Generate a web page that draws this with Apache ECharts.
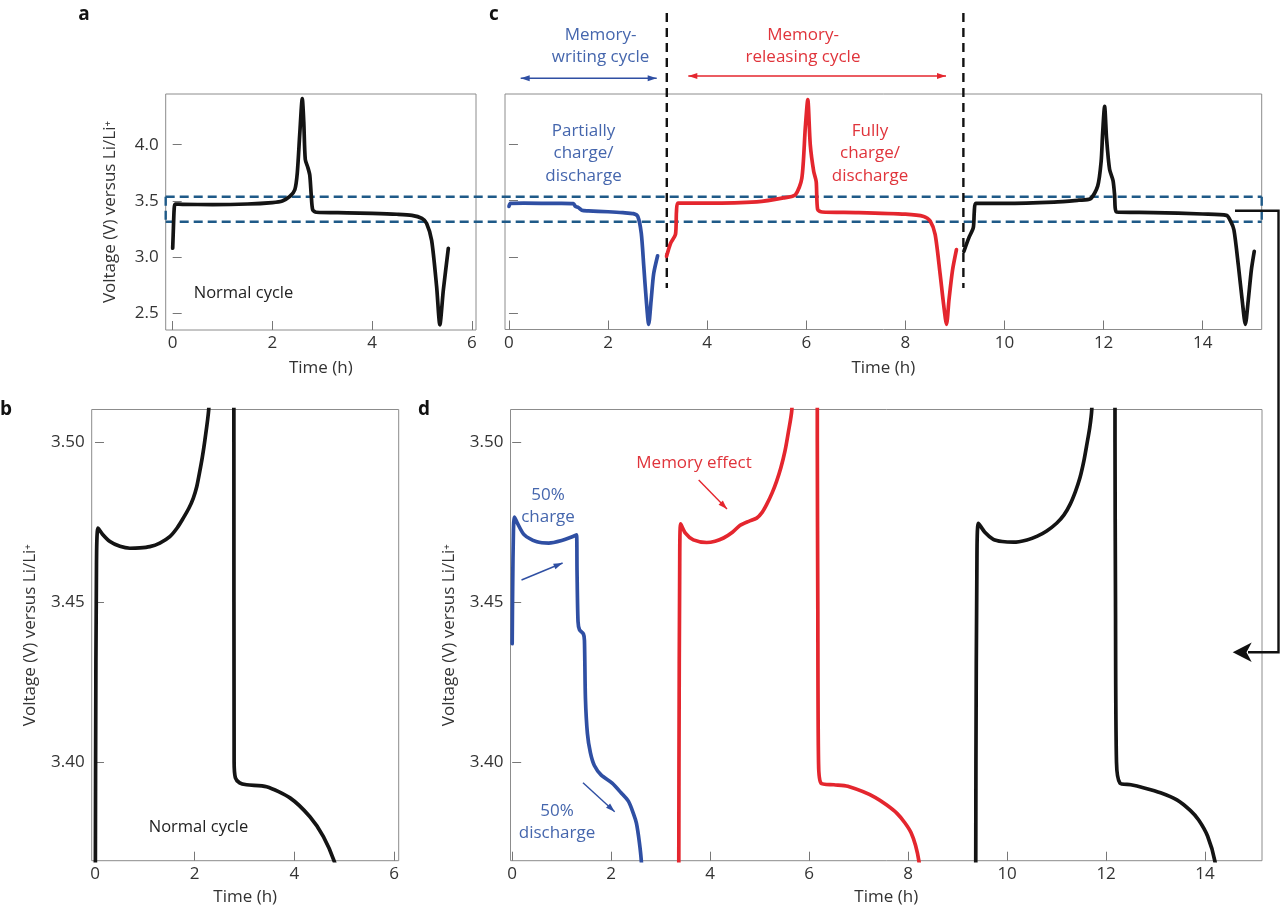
<!DOCTYPE html>
<html><head><meta charset="utf-8">
<script src="https://cdn.jsdelivr.net/npm/echarts@6/dist/echarts.min.js"></script>
<style>html,body{margin:0;padding:0;background:#fff}#c{width:1280px;height:911px}</style>
</head><body><div id="c"></div><script>
// ---------- DATA ----------
// Panel a: normal cycle, [time h, voltage V]
const normalA = [[0.0,3.08],[0.01,3.2],[0.03,3.43],[0.05,3.472],[0.2,3.470],[0.8,3.468],[1.5,3.473],[2.0,3.486],[2.2,3.50],[2.35,3.54],[2.45,3.60],[2.5,3.75],[2.55,4.10],[2.6,4.41],[2.63,4.20],[2.66,3.87],[2.71,3.80],[2.75,3.73],[2.78,3.55],[2.81,3.42],[2.88,3.40],[3.5,3.395],[4.0,3.39],[4.5,3.382],[4.8,3.372],[5.0,3.345],[5.095,3.30],[5.195,3.15],[5.295,2.74],[5.36,2.40],[5.43,2.71],[5.53,3.08]];
// Panel b: normal cycle zoomed
const normalB = [[0.0,3.30],[0.012,3.40],[0.03,3.462],[0.06,3.4731],[0.15,3.4712],[0.30,3.4689],[0.5,3.4674],[0.70,3.4668],[0.9,3.4669],[1.10,3.4673],[1.30,3.4684],[1.50,3.4704],[1.65,3.4732],[1.77,3.4762],[1.88,3.4792],[1.97,3.4824],[2.04,3.4860],[2.10,3.4907],[2.15,3.4950],[2.20,3.5001],[2.28,3.51],[2.35,3.53],[2.5,3.8],[2.6,4.4],[2.7,3.78],[2.78,3.6],[2.785,3.50],[2.79,3.40],[2.815,3.3952],[2.9,3.3936],[3.04,3.3930],[3.44,3.3924],[3.91,3.3889],[4.31,3.3830],[4.58,3.3768],[4.8,3.369],[4.85,3.365]];
// Panel c: memory-writing (partial), memory-releasing (full), normal cycle
const writeC = [[0.0,3.45],[0.03,3.476],[0.3,3.478],[1.0,3.476],[1.30,3.474],[1.34,3.45],[1.40,3.44],[1.47,3.415],[1.6,3.410],[2.0,3.402],[2.3,3.394],[2.51,3.385],[2.6,3.36],[2.67,3.21],[2.72,2.92],[2.77,2.62],[2.82,2.40],[2.87,2.62],[2.92,2.85],[3.0,3.01]];
const releaseC = [[3.18,3.005],[3.26,3.12],[3.36,3.20],[3.38,3.40],[3.41,3.478],[4.0,3.478],[5.0,3.49],[5.54,3.525],[5.78,3.554],[5.91,3.70],[5.98,4.15],[6.03,4.40],[6.08,4.0],[6.15,3.76],[6.20,3.67],[6.23,3.42],[6.32,3.40],[7.0,3.395],[8.0,3.38],[8.37,3.36],[8.5,3.32],[8.6,3.20],[8.7,2.85],[8.77,2.58],[8.83,2.40],[8.88,2.62],[8.95,2.88],[9.03,3.065]];
const normalC = [[9.18,3.05],[9.28,3.17],[9.37,3.26],[9.39,3.40],[9.42,3.476],[10.0,3.476],[11.0,3.488],[11.5,3.505],[11.73,3.516],[11.88,3.63],[11.95,3.85],[11.98,4.10],[12.02,4.34],[12.06,4.05],[12.12,3.78],[12.19,3.68],[12.22,3.56],[12.26,3.40],[13.0,3.395],[14.0,3.382],[14.48,3.37],[14.56,3.32],[14.63,3.24],[14.72,2.92],[14.8,2.60],[14.86,2.40],[14.92,2.62],[14.98,2.88],[15.04,3.05]];
// Panel d: zoomed view of the three cycles
const writeD = [[0.0,3.437],[0.01,3.455],[0.025,3.472],[0.045,3.4765],[0.1,3.4748],[0.243,3.4710],[0.5,3.4688],[0.74,3.4684],[1.0,3.4692],[1.2,3.4703],[1.30,3.4710],[1.31,3.4600],[1.33,3.4440],[1.36,3.4414],[1.44,3.4400],[1.46,3.4380],[1.48,3.4200],[1.52,3.4090],[1.58,3.4030],[1.66,3.3990],[1.8,3.3960],[2.02,3.3935],[2.2,3.3905],[2.35,3.3878],[2.45,3.3840],[2.51,3.3810],[2.57,3.3750],[2.61,3.369],[2.63,3.36]];
const releaseD = [[3.36,3.30],[3.37,3.40],[3.385,3.462],[3.405,3.4744],[3.5,3.4715],[3.66,3.4694],[3.93,3.4686],[4.1,3.4690],[4.27,3.4700],[4.45,3.4718],[4.60,3.4739],[4.78,3.4752],[4.94,3.4762],[5.05,3.4780],[5.14,3.4804],[5.25,3.4840],[5.34,3.4876],[5.43,3.4920],[5.51,3.4970],[5.58,3.5030],[5.65,3.51],[5.72,3.54],[6.0,4.4],[6.16,3.7],[6.165,3.50],[6.175,3.45],[6.19,3.40],[6.24,3.3935],[6.5,3.3930],[6.78,3.3925],[7.34,3.3890],[7.78,3.3840],[8.06,3.3780],[8.22,3.369],[8.25,3.36]];
const normalD = [[9.36,3.30],[9.37,3.40],[9.39,3.462],[9.42,3.4746],[9.55,3.4718],[9.72,3.4696],[9.9,3.4689],[10.13,3.4687],[10.4,3.4694],[10.60,3.4705],[10.8,3.4722],[11.00,3.4746],[11.15,3.4772],[11.27,3.4804],[11.38,3.4845],[11.47,3.4887],[11.55,3.4940],[11.61,3.4991],[11.67,3.5045],[11.71,3.51],[11.78,3.54],[12.0,4.3],[12.17,3.7],[12.18,3.50],[12.19,3.45],[12.21,3.40],[12.28,3.3935],[12.5,3.3930],[12.77,3.3920],[13.1,3.3905],[13.43,3.3883],[13.7,3.3850],[13.87,3.3820],[14.05,3.3770],[14.2,3.369],[14.25,3.36]];
// tick values
const timeTicks6 = [0,2,4,6];
const timeTicks15 = [0,2,4,6,8,10,12,14];
const voltTicksWide = [2.5,3.0,3.5,4.0];
const voltTicksZoom = [3.40,3.45,3.50];
// guide voltages (dashed band) and cycle boundaries (h)
const bandVolts = [3.538, 3.316];
const cycleBounds = [3.185, 9.17];

// ---------- STYLE ----------
const FONT = '"Open Sans", "Noto Sans", sans-serif';
const FS = 17;
const TXT = '#333';
const FRAME = '#8c8c8c';
const BLACK = '#141414', BLUE = '#2f4fa3', RED = '#e4262e';
const BLUE_T = '#4566ad', RED_T = '#e0343b';
const YNAME = 'Voltage (V) versus Li/Li\u207A';

const chart = echarts.init(document.getElementById('c'));

function xAxis(gi, min, max, ticks) {
  return {
    type: 'value', gridIndex: gi, min: min, max: max,
    name: 'Time (h)', nameLocation: 'middle', nameGap: gi >= 2 ? 28 : 30,
    nameTextStyle: { fontFamily: FONT, fontSize: FS, color: TXT },
    axisLine: { show: false },
    splitLine: { show: false },
    axisTick: { show: true, inside: true, length: 9, customValues: ticks, lineStyle: { color: '#777', width: 1 } },
    axisLabel: { show: true, customValues: ticks, margin: 5, fontFamily: FONT, fontSize: FS, color: TXT,
      formatter: v => String(Math.round(v)) }
  };
}
function yAxis(gi, min, max, ticks, dec, showLabel, gap) {
  return {
    type: 'value', gridIndex: gi, min: min, max: max,
    name: showLabel ? YNAME : '', nameLocation: 'middle', nameGap: gap, nameRotate: 90,
    nameTextStyle: { fontFamily: FONT, fontSize: FS, color: TXT },
    axisLine: { show: false },
    splitLine: { show: false },
    axisTick: { show: true, inside: true, length: 9, customValues: ticks, lineStyle: { color: '#777', width: 1 } },
    axisLabel: { show: showLabel, customValues: ticks, margin: 7, fontFamily: FONT, fontSize: FS, color: TXT,
      formatter: v => v.toFixed(dec) }
  };
}
function line(xi, data, color) {
  return { type: 'line', xAxisIndex: xi, yAxisIndex: xi, data: data, showSymbol: false, symbol: 'none',
    smooth: 0.25, clip: true, animation: false, silent: true,
    lineStyle: { color: color, width: 3.7, join: 'round', cap: 'round' } };
}

const option = {
  backgroundColor: '#fff',
  animation: false,
  grid: [
    { left: 165.7, top: 94, width: 310.3, height: 236, show: true, borderColor: FRAME, borderWidth: 1 },
    { left: 505, top: 94, width: 756.7, height: 235.5, show: true, borderColor: FRAME, borderWidth: 1 },
    { left: 91.7, top: 409.5, width: 307, height: 451.2, show: true, borderColor: FRAME, borderWidth: 1 },
    { left: 510.5, top: 409.5, width: 751.5, height: 451.2, show: true, borderColor: FRAME, borderWidth: 1 }
  ],
  xAxis: [
    xAxis(0, -0.14, 6.085, timeTicks6),
    xAxis(1, -0.08, 15.19, timeTicks15),
    xAxis(2, -0.066, 6.09, timeTicks6),
    xAxis(3, -0.034, 15.15, timeTicks15)
  ],
  yAxis: [
    yAxis(0, 2.354, 4.450, voltTicksWide, 1, true, 47),
    yAxis(1, 2.354, 4.450, voltTicksWide, 1, false, 47),
    yAxis(2, 3.3693, 3.5101, voltTicksZoom, 2, true, 53),
    yAxis(3, 3.3693, 3.5101, voltTicksZoom, 2, true, 53)
  ],
  series: [
    line(0, normalA, BLACK),
    line(1, writeC, BLUE),
    line(1, releaseC, RED),
    line(1, normalC, BLACK),
    line(2, normalB, BLACK),
    line(3, writeD, BLUE),
    line(3, releaseD, RED),
    line(3, normalD, BLACK)
  ]
};
chart.setOption(option);

// ---------- ANNOTATIONS ----------
function txt(x, y, s, color, size, weight, lh) {
  return { type: 'text', z: 10, style: { text: s, x: x, y: y, fill: color, font: (weight || 'normal') + ' ' + size + 'px ' + FONT,
    textAlign: 'center', textVerticalAlign: 'middle', align: 'center', verticalAlign: 'middle', lineHeight: lh || size * 1.2 } };
}
function seg(x1, y1, x2, y2, color, w, dash) {
  return { type: 'line', z: 1, shape: { x1: x1, y1: y1, x2: x2, y2: y2 }, style: { stroke: color, lineWidth: w, lineDash: dash || null } };
}
function head(x1, y1, x2, y2, color, len, wid) {
  const a = Math.atan2(y2 - y1, x2 - x1), c = Math.cos(a), s = Math.sin(a);
  const bx = x2 - c * len, by = y2 - s * len;
  return { type: 'polygon', z: 10, shape: { points: [[x2, y2], [bx - s * wid / 2, by + c * wid / 2], [bx + s * wid / 2, by - c * wid / 2]] },
    style: { fill: color } };
}
function arrow(x1, y1, x2, y2, color, w, both) {
  const out = [seg(x1, y1, x2, y2, color, w), head(x1, y1, x2, y2, color, 9, 6)];
  if (both) out.push(head(x2, y2, x1, y1, color, 9, 6));
  out[0].z = 10;
  return out;
}

const yHi = chart.convertToPixel({ yAxisIndex: 0 }, bandVolts[0]);
const yLo = chart.convertToPixel({ yAxisIndex: 0 }, bandVolts[1]);
const xL = 165.7, xR = 1261.7;
const xB1 = chart.convertToPixel({ xAxisIndex: 1 }, cycleBounds[0]);
const xB2 = chart.convertToPixel({ xAxisIndex: 1 }, cycleBounds[1]);
const BAND = '#1f5a88';

let g = [];
// panel letters
g.push(txt(84, 15, 'a', '#111', 19, 'bold'));
g.push(txt(494, 15, 'c', '#111', 19, 'bold'));
g.push(txt(6, 410, 'b', '#111', 19, 'bold'));
g.push(txt(424, 410, 'd', '#111', 19, 'bold'));
// dashed voltage band
g.push(seg(xL, yHi, xR, yHi, BAND, 2.4, [9, 5]));
g.push(seg(xL, yLo, xR, yLo, BAND, 2.4, [9, 5]));
g.push(seg(xL, yHi, xL, yLo, BAND, 2.4, [9, 5]));
g.push(seg(xR, yHi, xR, yLo, BAND, 2.4, [9, 5]));
// cycle boundary dashed lines
g.push(seg(xB1, 13, xB1, 288, '#111', 2.4, [9, 6]));
g.push(seg(xB2, 13, xB2, 288, '#111', 2.4, [9, 6]));
// top labels in c
g.push(txt(600.5, 46, 'Memory-\nwriting cycle', BLUE_T, FS, 'normal', 22));
g.push(txt(803, 46, 'Memory-\nreleasing cycle', RED_T, FS, 'normal', 22));
g = g.concat(arrow(520.7, 78.3, 656.7, 78.3, BLUE, 1.5, true));
g = g.concat(arrow(688.3, 76, 946, 76, RED, 1.5, true));
g.push(txt(583.5, 153.5, 'Partially\ncharge/\ndischarge', BLUE_T, FS, 'normal', 22.5));
g.push(txt(870, 153.5, 'Fully\ncharge/\ndischarge', RED_T, FS, 'normal', 22.5));
// normal cycle labels
g.push(txt(243.5, 293.5, 'Normal cycle', '#222', 16.5));
g.push(txt(198.5, 827, 'Normal cycle', '#222', 16.5));
// panel d annotations
g.push(txt(694, 463.5, 'Memory effect', RED_T, FS));
g = g.concat(arrow(698.7, 480, 727, 509, RED, 1.4, false));
g.push(txt(548, 506, '50%\ncharge', BLUE_T, FS, 'normal', 22));
g = g.concat(arrow(521.5, 580, 562.6, 563, BLUE, 1.4, false));
g.push(txt(557, 822, '50%\ndischarge', BLUE_T, FS, 'normal', 22.5));
g = g.concat(arrow(583, 782.7, 614.7, 811.7, BLUE, 1.4, false));
// connector from c to d
g.push({ type: 'polyline', z: 10, shape: { points: [[1235, 210.7], [1278.5, 210.7], [1278.5, 652.3], [1248, 652.3]] },
  style: { stroke: '#111', lineWidth: 2.4, fill: null } });
g.push({ type: 'polygon', z: 11, shape: { points: [[1232.7, 652.3], [1251.7, 642.5], [1246.5, 652.3], [1251.7, 662.1]] },
  style: { fill: '#111' } });

chart.setOption({ graphic: { elements: g } });
</script></body></html>
